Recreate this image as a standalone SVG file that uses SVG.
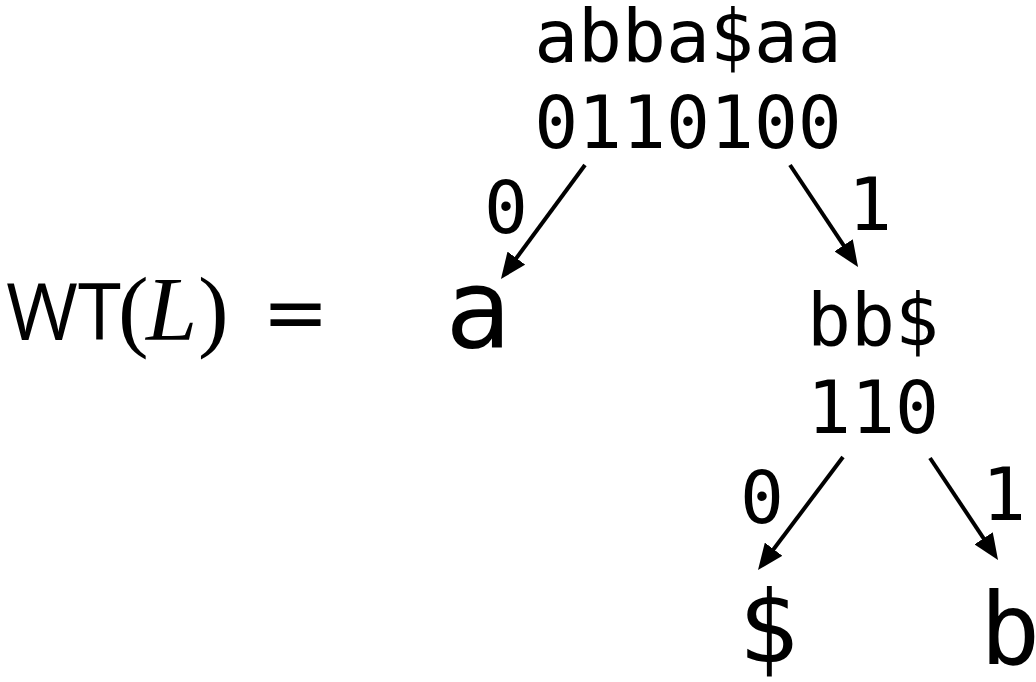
<svg xmlns="http://www.w3.org/2000/svg" width="1036" height="682" viewBox="0 0 1036 682">
<defs>
<style>
.m{font-family:"DejaVu Sans Mono","Liberation Mono",monospace;fill:#000}
.t{font-size:73px}
.a{font-size:110px}
.b{font-size:100px}
.c{stroke:#000;stroke-width:4;fill:none}
.s{font-family:"Liberation Serif",serif;font-size:92px}
</style>
<marker id="ah" viewBox="0 0 26 22" refX="18" refY="11" markerWidth="26" markerHeight="22" markerUnits="userSpaceOnUse" orient="auto">
<path d="M0,0 L26,11 L0,22 z" fill="#000"/>
</marker>
</defs>
<rect width="1036" height="682" fill="#fff"/>
<g id="label">
<text x="6" y="340" font-family="'Open Sans','Liberation Sans',sans-serif" font-size="78">WT<tspan class="s" x="118">(</tspan><tspan class="s" x="146" font-style="italic">L</tspan><tspan class="s" x="198">)</tspan><tspan x="262" font-family="'DejaVu Sans',sans-serif" font-size="80">=</tspan></text>
</g>
<g id="root">
<text class="m t" x="688" y="62" text-anchor="middle">abba$aa</text>
<text class="m t" x="688" y="148" text-anchor="middle">0110100</text>
</g>
<g id="leafA">
<text class="m a" x="478" y="347" text-anchor="middle">a</text>
</g>
<g id="inner">
<text class="m t" x="873" y="346" text-anchor="middle">bb$</text>
<text class="m t" x="873" y="433" text-anchor="middle">110</text>
</g>
<g id="leafD">
<text class="m b" x="768" y="662" text-anchor="middle">$</text>
</g>
<g id="leafB">
<text class="m b" x="1010" y="664" text-anchor="middle">b</text>
</g>
<g id="connectors">
<line class="c" x1="585" y1="165" x2="505.7" y2="272.6" marker-end="url(#ah)"/>
<line class="c" x1="790" y1="165" x2="853.6" y2="260.3" marker-end="url(#ah)"/>
<line class="c" x1="843" y1="457" x2="762.8" y2="563.6" marker-end="url(#ah)"/>
<line class="c" x1="930" y1="458" x2="993.6" y2="553.3" marker-end="url(#ah)"/>
<text class="m t" x="506" y="233" text-anchor="middle">0</text>
<text class="m t" x="870" y="230" text-anchor="middle">1</text>
<text class="m t" x="762" y="523" text-anchor="middle">0</text>
<text class="m t" x="1004" y="520" text-anchor="middle">1</text>
</g>
</svg>
